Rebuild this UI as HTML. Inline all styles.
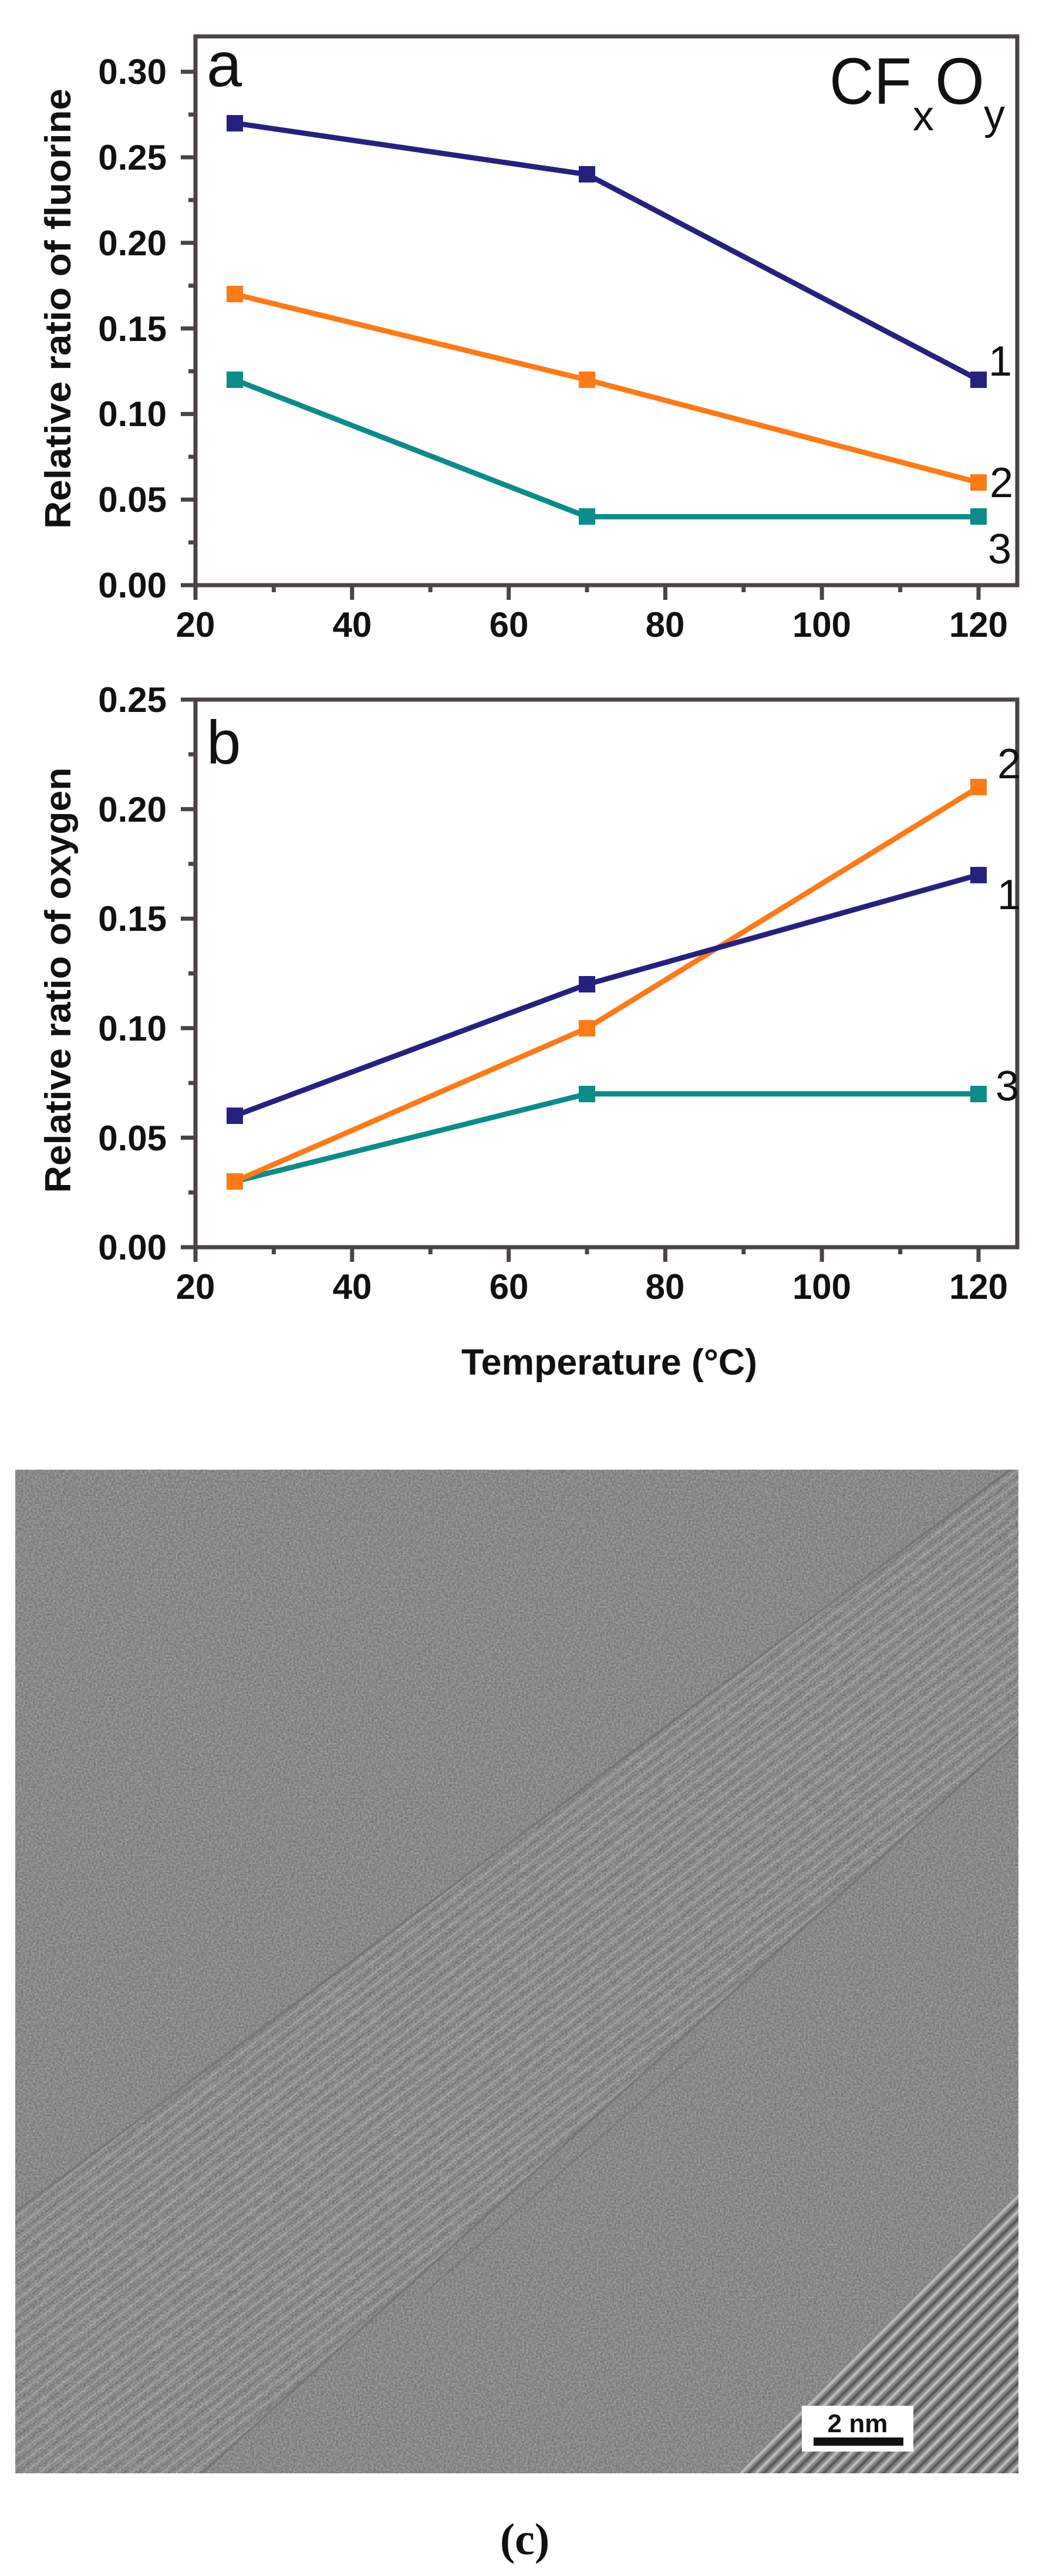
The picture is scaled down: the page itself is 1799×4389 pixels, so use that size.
<!DOCTYPE html>
<html><head><meta charset="utf-8"><style>html,body{margin:0;padding:0;background:#fff}svg{display:block}</style></head>
<body>
<svg width="1799" height="4389" viewBox="0 0 1799 4389" xmlns="http://www.w3.org/2000/svg" font-family="'Liberation Sans', Arial, sans-serif">
<defs>
<filter id="noise" x="0" y="0" width="100%" height="100%" color-interpolation-filters="sRGB">
<feTurbulence type="fractalNoise" baseFrequency="0.3" numOctaves="2" seed="3" result="t"/>
<feColorMatrix type="matrix" values="0.5 0 0 0 0.29  0.5 0 0 0 0.29  0.5 0 0 0 0.29  0 0 0 0 1"/>
</filter>
<filter id="noise2" x="0" y="0" width="100%" height="100%" color-interpolation-filters="sRGB">
<feTurbulence type="fractalNoise" baseFrequency="0.06" numOctaves="3" seed="7" result="t"/>
<feColorMatrix type="matrix" values="0 0 0 0 0.7  0 0 0 0 0.7  0 0 0 0 0.7  1.2 0 0 0 -0.45"/>
</filter>
<pattern id="stripes" width="40" height="16" patternUnits="userSpaceOnUse" patternTransform="rotate(-38)">
<rect y="0" width="40" height="3" fill="#c8c8c8" opacity="0.3"/>
<rect y="8" width="40" height="3" fill="#4e4e4e" opacity="0.22"/>
</pattern>
<pattern id="stripes2" width="40" height="18" patternUnits="userSpaceOnUse" patternTransform="rotate(-45)">
<rect y="0" width="40" height="5" fill="#e0e0e0" opacity="0.55"/>
<rect y="9" width="40" height="5" fill="#2a2a2a" opacity="0.45"/>
</pattern>
<clipPath id="photo"><rect x="26" y="2504" width="1709" height="1710"/></clipPath>
<clipPath id="tube"><polygon points="26,3769 1760,2475 1760,2930 344,4214 26,4214"/></clipPath>
</defs>

<!-- ===== Chart a ===== -->
<g stroke="#4a4442" stroke-width="7" fill="none">
<rect x="333" y="62" width="1400" height="935"/>
<path d="M333 997V122M308 997H333M308 851.2H333M308 705.4H333M308 559.6H333M308 413.8H333M308 268H333M308 122.2H333"/>
<path d="M321 924.1H333M321 778.3H333M321 632.5H333M321 486.7H333M321 340.9H333M321 195.1H333"/>
<path d="M333 997V1022M599.8 997V1022M866.6 997V1022M1133.4 997V1022M1400.2 997V1022M1667 997V1022"/>
<path d="M466.4 997V1009M733.2 997V1009M1000 997V1009M1266.8 997V1009M1533.6 997V1009"/>
</g>
<g font-size="60" font-weight="bold" fill="#111" text-anchor="end">
<text x="284" y="1018">0.00</text><text x="284" y="872">0.05</text><text x="284" y="726">0.10</text>
<text x="284" y="581">0.15</text><text x="284" y="435">0.20</text><text x="284" y="289">0.25</text><text x="284" y="143">0.30</text>
</g>
<g font-size="60" font-weight="bold" fill="#111" text-anchor="middle">
<text x="333" y="1085">20</text><text x="600" y="1085">40</text><text x="867" y="1085">60</text>
<text x="1133" y="1085">80</text><text x="1400" y="1085">100</text><text x="1667" y="1085">120</text>
</g>
<text transform="translate(120,526) rotate(-90)" font-size="62" font-weight="bold" fill="#111" text-anchor="middle" textLength="750" lengthAdjust="spacingAndGlyphs">Relative ratio of fluorine</text>
<text x="352" y="147" font-size="108" fill="#111">a</text>
<text x="1413" y="177" font-size="112" fill="#111" textLength="140" lengthAdjust="spacingAndGlyphs">CF</text>
<text x="1555" y="222" font-size="72" fill="#111">x</text>
<text x="1593" y="177" font-size="112" fill="#111" textLength="84" lengthAdjust="spacingAndGlyphs">O</text>
<text x="1676" y="220" font-size="72" fill="#111">y</text>

<g fill="none" stroke-width="9" stroke-linejoin="round">
<polyline points="399.7,209.7 1000,297.2 1667,647.1" stroke="#26207f"/>
<polyline points="399.7,501.3 1000,647.1 1667,822" stroke="#ff7a14"/>
<polyline points="399.7,647.1 1000,880.4 1667,880.4" stroke="#0a8c8a"/>
</g>
<g fill="#26207f"><rect x="386" y="196" width="28" height="28"/><rect x="986" y="283" width="28" height="28"/><rect x="1653" y="633" width="28" height="28"/></g>
<g fill="#ff7a14"><rect x="386" y="487" width="28" height="28"/><rect x="986" y="633" width="28" height="28"/><rect x="1653" y="808" width="28" height="28"/></g>
<g fill="#0a8c8a"><rect x="386" y="633" width="28" height="28"/><rect x="986" y="866" width="28" height="28"/><rect x="1653" y="866" width="28" height="28"/></g>
<g font-size="72" fill="#111" text-anchor="middle">
<text x="1704" y="640">1</text><text x="1706" y="847">2</text><text x="1703" y="960">3</text>
</g>

<!-- ===== Chart b ===== -->
<g stroke="#4a4442" stroke-width="7" fill="none">
<rect x="333" y="1192" width="1400" height="933"/>
<path d="M308 2125H333M308 1938.4H333M308 1751.8H333M308 1565.2H333M308 1378.6H333M308 1192H333"/>
<path d="M321 2031.7H333M321 1845.1H333M321 1658.5H333M321 1471.9H333M321 1285.3H333"/>
<path d="M333 2125V2150M599.8 2125V2150M866.6 2125V2150M1133.4 2125V2150M1400.2 2125V2150M1667 2125V2150"/>
<path d="M466.4 2125V2137M733.2 2125V2137M1000 2125V2137M1266.8 2125V2137M1533.6 2125V2137"/>
</g>
<g font-size="60" font-weight="bold" fill="#111" text-anchor="end">
<text x="284" y="2146">0.00</text><text x="284" y="1960">0.05</text><text x="284" y="1773">0.10</text>
<text x="284" y="1586">0.15</text><text x="284" y="1400">0.20</text><text x="284" y="1213">0.25</text>
</g>
<g font-size="60" font-weight="bold" fill="#111" text-anchor="middle">
<text x="333" y="2213">20</text><text x="600" y="2213">40</text><text x="867" y="2213">60</text>
<text x="1133" y="2213">80</text><text x="1400" y="2213">100</text><text x="1667" y="2213">120</text>
</g>
<text transform="translate(120,1670) rotate(-90)" font-size="62" font-weight="bold" fill="#111" text-anchor="middle" textLength="725" lengthAdjust="spacingAndGlyphs">Relative ratio of oxygen</text>
<text x="1038" y="2342" font-size="62" font-weight="bold" fill="#111" text-anchor="middle" textLength="504" lengthAdjust="spacingAndGlyphs">Temperature (°C)</text>
<text x="352" y="1301" font-size="105" fill="#111">b</text>

<g fill="none" stroke-width="9" stroke-linejoin="round">
<polyline points="399.7,2013 1000,1863.8 1667,1863.8" stroke="#0a8c8a"/>
<polyline points="399.7,2013 1000,1751.8 1667,1341.3" stroke="#ff7a14"/>
<polyline points="399.7,1901.1 1000,1677.2 1667,1490.6" stroke="#26207f"/>
</g>
<g fill="#26207f"><rect x="386" y="1887" width="28" height="28"/><rect x="986" y="1663" width="28" height="28"/><rect x="1653" y="1477" width="28" height="28"/></g>
<g fill="#0a8c8a"><rect x="986" y="1850" width="28" height="28"/><rect x="1653" y="1850" width="28" height="28"/></g>
<g fill="#ff7a14"><rect x="386" y="1999" width="28" height="28"/><rect x="986" y="1738" width="28" height="28"/><rect x="1653" y="1327" width="28" height="28"/></g>
<g font-size="72" fill="#111" text-anchor="middle">
<text x="1719" y="1326">2</text><text x="1719" y="1549">1</text><text x="1716" y="1875">3</text>
</g>

<!-- ===== Photo c ===== -->
<g clip-path="url(#photo)">
<rect x="26" y="2504" width="1709" height="1710" fill="#8a8a8a"/>
<rect x="26" y="2504" width="1709" height="1710" filter="url(#noise)" opacity="0.6"/>
<g clip-path="url(#tube)">
<rect x="26" y="2475" width="1734" height="1739" fill="url(#stripes)"/>
<rect x="26" y="2475" width="1734" height="1739" filter="url(#noise2)" opacity="0.35"/>
</g>
<polyline points="26,3769 1760,2475" fill="none" stroke="#6a6a6a" stroke-width="4" opacity="0.6"/>
<polyline points="344,4214 1760,2930" fill="none" stroke="#6a6a6a" stroke-width="4" opacity="0.6"/>
<polyline points="720,3910 1200,3485" fill="none" stroke="#6a6a6a" stroke-width="3" opacity="0.5"/>
<polygon points="1257,4214 1735,3735 1735,4214" fill="#858585"/>
<polygon points="1257,4214 1735,3735 1735,4214" fill="url(#stripes2)"/>
<rect x="1366" y="4099" width="190" height="78" fill="#fff"/>
<text x="1461" y="4144" font-size="44" font-weight="bold" fill="#111" text-anchor="middle">2 nm</text>
<rect x="1386" y="4153" width="153" height="14" fill="#111"/>
</g>
<text x="894" y="4352" font-size="76" font-weight="bold" font-family="'Liberation Serif', 'Times New Roman', serif" fill="#111" text-anchor="middle">(c)</text>
</svg>
</body></html>
